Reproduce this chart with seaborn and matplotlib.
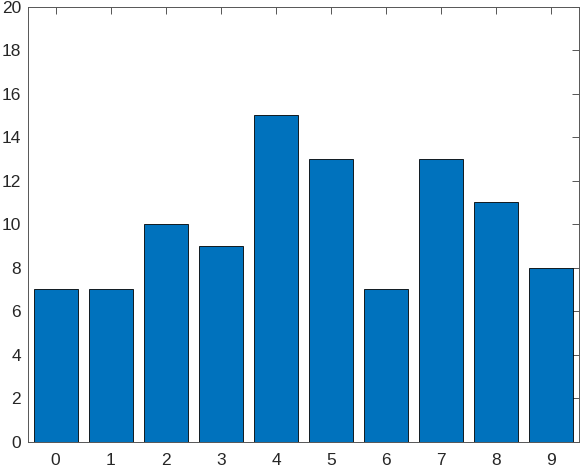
import numpy as np
import pandas as pd
import matplotlib
matplotlib.use("Agg")
import matplotlib.pyplot as plt
import seaborn as sns

# data
categories = [0, 1, 2, 3, 4, 5, 6, 7, 8, 9]
counts = [7, 7, 10, 9, 15, 13, 7, 13, 11, 8]

sns.set_style("white")
plt.rcParams['font.family'] = ['Liberation Sans', 'DejaVu Sans']

df = pd.DataFrame({"x": categories, "y": counts})

fig = plt.figure(figsize=(5.81, 4.69), dpi=100)
ax = fig.add_axes([28 / 581, 27.3 / 469, 551 / 581, 435 / 469])

sns.barplot(data=df, x="x", y="y", color="#0072BD", saturation=1,
            width=0.8, edgecolor="black", linewidth=0.6, ax=ax)

ax.set_xlim(-0.5, 9.5)
ax.set_ylim(0, 20)
ax.set_yticks(np.arange(0, 21, 2))
ax.set_xlabel("")
ax.set_ylabel("")
for s in ax.spines.values():
    s.set_visible(True)
    s.set_color("#555555")
    s.set_linewidth(0.7)
ax.tick_params(direction="in", length=5, width=0.7, color="#555555",
               top=True, right=True, labelsize=12.5, labelcolor="#262626")
ax.tick_params(axis="x", pad=8)
ax.tick_params(axis="y", pad=5)

fig.savefig("out.png", dpi=100)
